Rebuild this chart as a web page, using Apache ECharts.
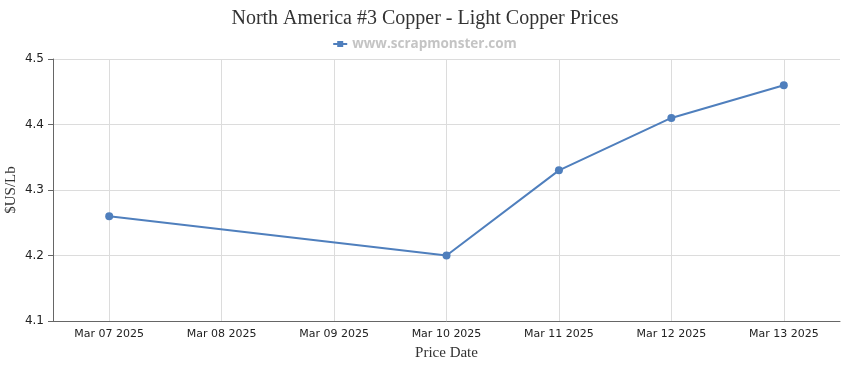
<!DOCTYPE html>
<html>
<head>
<meta charset="utf-8">
<script src="https://cdn.jsdelivr.net/npm/echarts@6/dist/echarts.min.js"></script>
<style>html,body{margin:0;padding:0;background:#fff}#c{width:850px;height:370px}</style>
</head>
<body>
<div id="c"></div>
<script>
const categories = ['Mar 07 2025','Mar 08 2025','Mar 09 2025','Mar 10 2025','Mar 11 2025','Mar 12 2025','Mar 13 2025'];
const prices = [4.26, null, null, 4.20, 4.33, 4.41, 4.46];
const yTicks = [4.1, 4.2, 4.3, 4.4, 4.5];
const seriesName = 'www.scrapmonster.com';

const chart = echarts.init(document.getElementById('c'), null, {renderer: 'canvas'});
chart.setOption({
  animation: false,
  title: {
    text: 'North America #3 Copper - Light Copper Prices',
    left: 'center', top: 4,
    textStyle: {fontFamily: 'Liberation Serif', fontSize: 20, fontWeight: 'normal', color: '#333'}
  },
  legend: {
    top: 32, left: 'center',
    itemWidth: 14, itemHeight: 6,
    icon: 'path://M0,2 L4,2 L4,0 L10,0 L10,2 L14,2 L14,4 L10,4 L10,6 L4,6 L4,4 L0,4 Z',
    textStyle: {fontFamily: 'Open Sans', fontSize: 13.5, fontWeight: 'bold', color: '#c4c4c4'},
    itemGap: 5,
    data: [seriesName]
  },
  grid: {left: 53, right: 10, top: 59, bottom: 49, outerBoundsMode: 'none', containLabel: false},
  xAxis: {
    type: 'category', data: categories, boundaryGap: true,
    name: 'Price Date', nameLocation: 'middle', nameGap: 25, nameMoveOverlap: false,
    nameTextStyle: {fontFamily: 'Liberation Serif', fontSize: 15, color: '#333'},
    axisLine: {lineStyle: {color: '#666'}},
    axisTick: {alignWithLabel: true, length: 5, lineStyle: {color: '#666'}},
    axisLabel: {fontFamily: 'DejaVu Sans', fontSize: 11, color: '#222', margin: 8},
    splitLine: {show: false}
  },
  yAxis: {
    type: 'value', min: 4.1, max: 4.5, interval: 0.1,
    name: '$US/Lb', nameLocation: 'middle', nameGap: 34, nameMoveOverlap: false,
    nameTextStyle: {fontFamily: 'Liberation Serif', fontSize: 15, color: '#333'},
    axisLine: {show: true, lineStyle: {color: '#666'}},
    axisTick: {show: true, length: 5, lineStyle: {color: '#666'}},
    axisLabel: {fontFamily: 'DejaVu Sans', fontSize: 12, color: '#222', margin: 9,
      formatter: v => yTicks.includes(Math.round(v*10)/10) ? v.toFixed(1) : ''},
    splitLine: {lineStyle: {color: '#dcdcdc'}}
  },
  series: [{
    name: seriesName, type: 'line', data: prices, connectNulls: true,
    symbol: 'circle', symbolSize: 8,
    itemStyle: {color: '#4f7fbd'},
    lineStyle: {color: '#4f7fbd', width: 2},
    markLine: {
      silent: true, symbol: 'none', label: {show: false},
      lineStyle: {color: '#dcdcdc', type: 'solid', width: 1},
      z: 0,
      data: categories.map(c => ({xAxis: c}))
    }
  }]
});
</script>
</body>
</html>
